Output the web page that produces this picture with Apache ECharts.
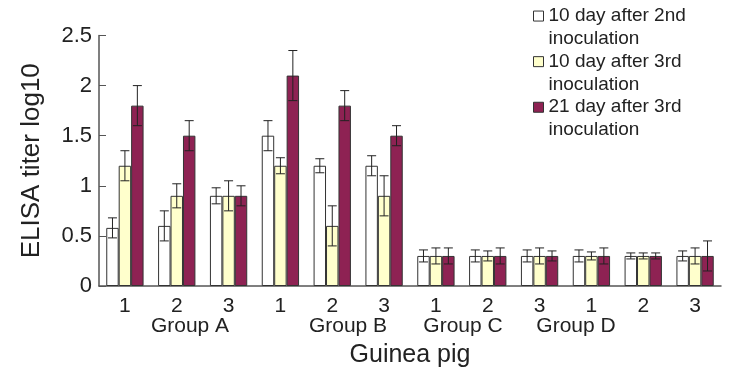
<!DOCTYPE html>
<html>
<head>
<meta charset="utf-8">
<script src="https://cdn.jsdelivr.net/npm/echarts@6/dist/echarts.min.js"></script>
<style>html,body{margin:0;padding:0;background:#fff}#c{width:730px;height:387px}</style>
</head>
<body>
<div id="c"></div>
<script>
var categories = ['1','2','3','1','2','3','1','2','3','1','2','3'];
var groupLabels = ['Group A','Group B','Group C','Group D'];
var seriesNames = ['10 day after 2nd\ninoculation','10 day after 3rd\ninoculation','21 day after 3rd\ninoculation'];
var day10after2nd = [0.58,0.6,0.9,1.5,1.2,1.2,0.3,0.3,0.3,0.3,0.3,0.3];
var day10after2ndErr = [0.1,0.15,0.08,0.15,0.07,0.1,0.06,0.06,0.06,0.06,0.03,0.05];
var day10after3rd = [1.2,0.9,0.9,1.2,0.6,0.9,0.3,0.3,0.3,0.3,0.3,0.3];
var day10after3rdErr = [0.15,0.12,0.15,0.08,0.2,0.2,0.08,0.05,0.08,0.04,0.03,0.08];
var day21after3rd = [1.8,1.5,0.9,2.1,1.8,1.5,0.3,0.3,0.3,0.3,0.3,0.3];
var day21after3rdErr = [0.2,0.15,0.1,0.25,0.15,0.1,0.08,0.08,0.05,0.08,0.03,0.15];
var yTicks = [0,0.5,1,1.5,2,2.5];

var values = [day10after2nd, day10after3rd, day21after3rd];
var errs = [day10after2ndErr, day10after3rdErr, day21after3rdErr];
var colors = ['#ffffff','#ffffcc','#8e2253'];
var font = 'Liberation Sans, Arial, sans-serif';
var gapPct = 0.28;

var chart = echarts.init(document.getElementById('c'));
var series = [];
values.forEach(function(v, i){
  series.push({
    name: seriesNames[i], type: 'bar', data: v,
    barGap: '0%', barCategoryGap: (gapPct*100)+'%',
    itemStyle: {color: colors[i], borderColor: '#333', borderWidth: 1},
    emphasis: {disabled: true}
  });
});
values.forEach(function(v, i){
  series.push({
    type: 'custom', silent: true, z: 5,
    data: v.map(function(val, k){ return [k, val, errs[i][k]]; }),
    encode: {x: 0, y: 1},
    renderItem: function(params, api){
      var k = api.value(0), val = api.value(1), e = api.value(2);
      var cw = api.size([1,0])[0];
      var bw = cw*(1-gapPct)/3;
      var c = api.coord([k, val]);
      var x = c[0] + (i-1)*bw;
      var yTop = api.coord([k, val+e])[1];
      var yBot = api.coord([k, val-e])[1];
      var hw = 4.5;
      var st = {stroke: '#222', lineWidth: 1};
      return {type: 'group', children: [
        {type: 'line', shape: {x1: x, y1: yTop, x2: x, y2: yBot}, style: st},
        {type: 'line', shape: {x1: x-hw, y1: yTop, x2: x+hw, y2: yTop}, style: st},
        {type: 'line', shape: {x1: x-hw, y1: yBot, x2: x+hw, y2: yBot}, style: st}
      ]};
    }
  });
});

var groupX = [190, 348, 463, 576];
var graphics = groupLabels.map(function(t, i){
  return {type: 'text', x: groupX[i], y: 326, style: {text: t, font: '21px ' + font, fill: '#222', align: 'center', verticalAlign: 'middle'}};
});

chart.setOption({
  animation: false,
  backgroundColor: '#fff',
  grid: {left: 99, right: 9, top: 35.5, bottom: 101, containLabel: false},
  legend: {
    orient: 'vertical', left: 528, top: -23,
    data: seriesNames, icon: 'rect', itemWidth: 10, itemHeight: 10, itemGap: -22.5,
    selectedMode: false,
    formatter: function(n){ return ' \n' + n; },
    textStyle: {fontFamily: font, fontSize: 19, color: '#222', lineHeight: 22.7},
    itemStyle: {borderColor: '#333', borderWidth: 1}
  },
  xAxis: {
    type: 'category', data: categories,
    name: 'Guinea pig', nameLocation: 'middle', nameGap: 57,
    nameTextStyle: {fontFamily: font, fontSize: 25, color: '#222', verticalAlign: 'top'},
    axisLine: {lineStyle: {color: '#555', width: 1.5}},
    axisTick: {inside: true, length: 5, lineStyle: {color: '#555'}},
    axisLabel: {fontFamily: font, fontSize: 21, color: '#222', margin: 10}
  },
  yAxis: {
    type: 'value', min: 0, max: 2.5, interval: 0.5,
    name: 'ELISA titer log10', nameLocation: 'middle', nameGap: 54,
    nameTextStyle: {fontFamily: font, fontSize: 26, color: '#222'},
    axisLine: {show: true, lineStyle: {color: '#555', width: 1.5}},
    axisTick: {show: true, inside: true, length: 7, lineStyle: {color: '#555'}},
    splitLine: {show: false},
    axisLabel: {fontFamily: font, fontSize: 22, color: '#222', margin: 7,
      formatter: function(v){ return yTicks.indexOf(v) >= 0 ? String(v) : ''; }}
  },
  graphic: graphics,
  series: series
});
</script>
</body>
</html>
